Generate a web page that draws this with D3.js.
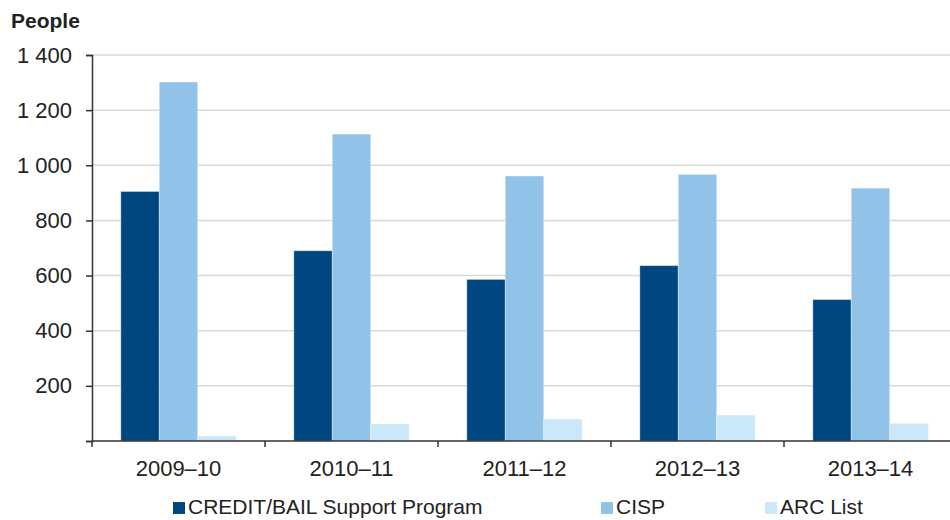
<!DOCTYPE html>
<html>
<head>
<meta charset="utf-8">
<script src="https://cdn.jsdelivr.net/npm/d3@7"></script>
<style>
  body { margin: 0; background: #fff; }
  svg { display: block; font-family: "Liberation Sans", Arial, sans-serif; }
</style>
</head>
<body>
<div id="chart"></div>
<script>
var years = ['2009–10', '2010–11', '2011–12', '2012–13', '2013–14'];
var series = ['CREDIT/BAIL Support Program', 'CISP', 'ARC List'];
var creditBail = [905, 690, 586, 636, 513];
var cisp = [1302, 1113, 961, 967, 917];
var arcList = [18, 62, 80, 94, 64];
var yTicks = [0, 200, 400, 600, 800, 1000, 1200, 1400];
var colors = ['#004680', '#91c3e9', '#cbe8f8'];

var width = 950, height = 520;
var margin = {top: 55, right: -7, bottom: 79, left: 92};

var rows = years.map(function(y, i) {
  return {year: y, values: [creditBail[i], cisp[i], arcList[i]]};
});

var svg = d3.select('#chart')
  .append('svg')
  .attr('width', width)
  .attr('height', height);

var x0 = d3.scaleBand()
  .domain(years)
  .range([margin.left, width - margin.right])
  .padding(0);

var x1 = d3.scaleBand()
  .domain(d3.range(series.length))
  .range([0, x0.bandwidth()])
  .paddingInner(0)
  .paddingOuter(0.75);

var y = d3.scaleLinear()
  .domain([0, 1400])
  .range([height - margin.bottom, margin.top]);

var fmt = d3.formatLocale({decimal: '.', thousands: ' ', grouping: [3], currency: ['', '']}).format(',');

// gridlines
svg.append('g')
  .selectAll('line')
  .data(yTicks.filter(function(d) { return d > 0; }))
  .enter()
  .append('line')
  .attr('x1', margin.left)
  .attr('x2', width)
  .attr('y1', function(d) { return y(d); })
  .attr('y2', function(d) { return y(d); })
  .attr('stroke', '#d9d9d9')
  .attr('stroke-width', 1.5);

// bars
var groups = svg.append('g')
  .selectAll('g')
  .data(rows)
  .enter()
  .append('g')
  .attr('transform', function(d) { return 'translate(' + x0(d.year) + ',0)'; });

groups.selectAll('rect')
  .data(function(d) { return d.values; })
  .enter()
  .append('rect')
  .attr('x', function(d, i) { return x1(i); })
  .attr('y', function(d) { return y(d); })
  .attr('width', x1.bandwidth())
  .attr('height', function(d) { return y(0) - y(d); })
  .attr('fill', function(d, i) { return colors[i]; })
  .attr('stroke', '#ffffff')
  .attr('stroke-opacity', 0.35)
  .attr('stroke-width', 1);

// y axis
var yAxis = svg.append('g')
  .attr('transform', 'translate(' + margin.left + ',0)')
  .call(d3.axisLeft(y)
    .tickValues(yTicks)
    .tickSize(6)
    .tickPadding(14)
    .tickFormat(function(d) { return d === 0 ? '' : fmt(d); }));

yAxis.select('.domain').attr('stroke', '#333').attr('stroke-width', 1.5);
yAxis.selectAll('.tick line').attr('stroke', '#333').attr('stroke-width', 1.5);
yAxis.selectAll('text')
  .attr('fill', '#222')
  .attr('font-size', 22)
  .attr('font-family', '"Liberation Sans", Arial, sans-serif');

// x axis
var xAxis = svg.append('g')
  .attr('transform', 'translate(0,' + y(0) + ')');

xAxis.append('line')
  .attr('x1', margin.left)
  .attr('x2', width)
  .attr('stroke', '#333')
  .attr('stroke-width', 1.5);

xAxis.selectAll('.tk')
  .data(years)
  .enter()
  .append('line')
  .attr('class', 'tk')
  .attr('x1', function(d) { return x0(d); })
  .attr('x2', function(d) { return x0(d); })
  .attr('y1', 0)
  .attr('y2', 6)
  .attr('stroke', '#333')
  .attr('stroke-width', 1.5);

xAxis.selectAll('.lbl')
  .data(years)
  .enter()
  .append('text')
  .attr('class', 'lbl')
  .attr('x', function(d) { return x0(d) + x0.bandwidth() / 2; })
  .attr('y', 35)
  .attr('text-anchor', 'middle')
  .attr('font-size', 22)
  .attr('fill', '#222')
  .text(function(d) { return d; });

// axis title
svg.append('text')
  .attr('x', 11)
  .attr('y', 28)
  .attr('font-size', 21)
  .attr('font-weight', 'bold')
  .attr('fill', '#222')
  .text('People');

// legend
var legendX = [173, 601, 765];
var legend = svg.append('g')
  .selectAll('g')
  .data(series)
  .enter()
  .append('g')
  .attr('transform', function(d, i) { return 'translate(' + legendX[i] + ',502)'; });

legend.append('rect')
  .attr('width', 12)
  .attr('height', 12)
  .attr('fill', function(d, i) { return colors[i]; });

legend.append('text')
  .attr('x', 15)
  .attr('y', 12)
  .attr('font-size', 21)
  .attr('fill', '#222')
  .text(function(d) { return d; });
</script>
</body>
</html>
